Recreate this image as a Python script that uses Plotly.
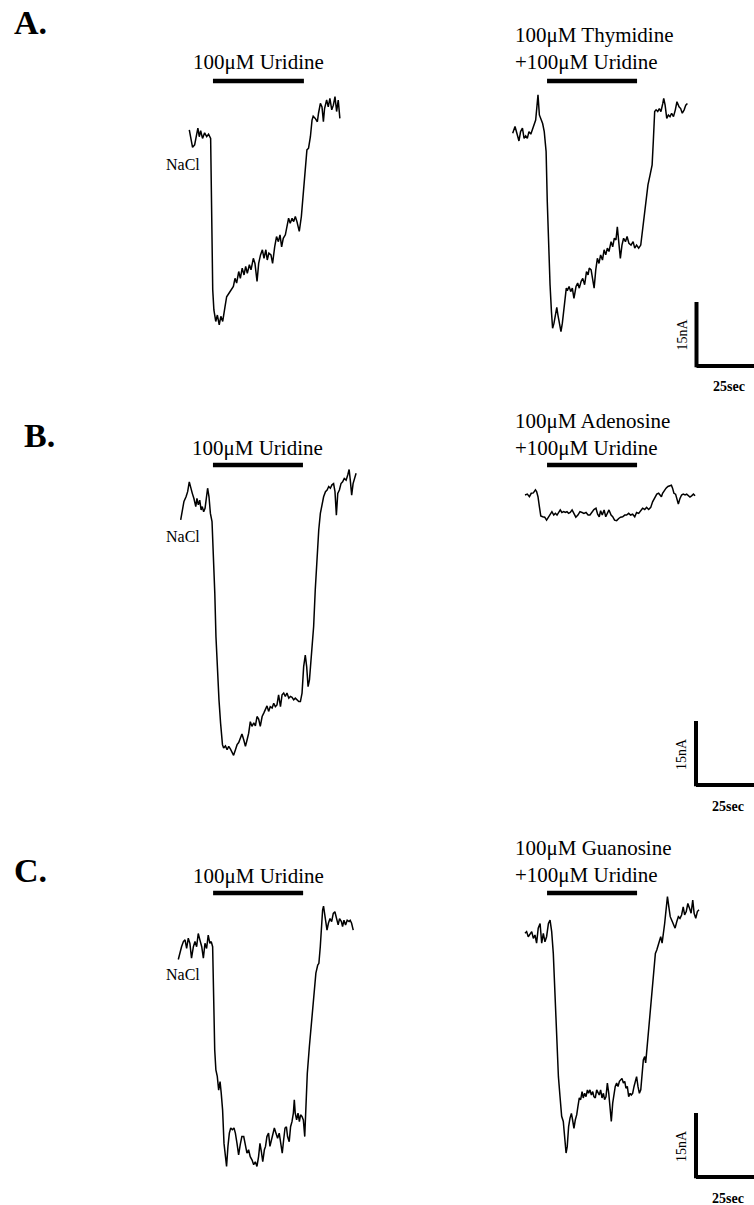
import plotly.graph_objects as go

# ---------------------------------------------------------------
# Whole-cell current traces (time in s, current in nA, baseline = 0)
# ---------------------------------------------------------------

# A, left: 100 uM uridine
a_left_t = [0, 0.7, 1.4, 2.3, 3.2, 3.7, 4.3, 4.9, 5.7, 6.6, 7.5, 8.3, 9.2, 9.6, 10.1, 10.6,
            11.4, 12.1, 12.9, 13.6, 14.4, 15.4, 16.1, 17.1, 18.0, 19.0, 19.7, 20.4, 21.3, 22.0,
            22.8, 23.6, 24.3, 25.0, 25.9, 26.6, 27.6, 28.3, 29.2, 29.9, 30.7, 31.5, 32.2, 33.0,
            33.6, 34.3, 35.2, 35.9, 36.8, 37.6, 38.4, 39.1, 39.8, 40.5, 41.4, 42.1, 42.8, 43.5,
            44.3, 45.0, 45.7, 46.4, 47.4, 48.3, 49.1, 50.0, 50.7, 51.4, 52.2, 52.9, 53.4, 54.3,
            55.2, 55.7, 56.5, 57.2, 57.8, 58.3, 59.2, 59.9, 60.6, 61.4, 62.1, 62.8, 63.5, 64.2, 64.9]
a_left_i = [1.2, -1.2, -2.9, -2.3, 0.8, 1.6, -0.4, 1.0, -0.8, 0.5, -0.4, 0.2, -0.8, -16.8, -36.3, -41.0,
            -43.7, -42.2, -44.5, -42.5, -43.7, -40.2, -37.9, -37.1, -36.3, -35.5, -33.6, -34.7, -32.0, -33.6,
            -31.2, -32.8, -30.8, -32.4, -30.4, -31.6, -28.9, -30.1, -34.3, -30.1, -28.1, -26.9, -28.9, -26.9,
            -29.3, -27.7, -28.1, -30.1, -26.2, -23.8, -25.0, -23.4, -26.2, -24.2, -23.4, -21.5, -19.5, -20.7,
            -19.5, -20.3, -19.1, -20.3, -22.6, -19.1, -14.4, -9.0, -3.5, -3.1, -0.4, 3.5, 4.4, 3.9,
            3.1, 5.1, 7.4, 6.6, 3.1, 6.2, 8.2, 6.6, 8.6, 5.9, 7.0, 9.0, 5.5, 8.2, 3.9]

# A, right: 100 uM thymidine + 100 uM uridine
a_right_t = [0, 1.0, 2.0, 2.7, 3.4, 4.2, 4.9, 5.6, 6.3, 7.0, 7.8, 8.5, 9.2, 9.9, 10.5, 10.9, 11.5,
             12.2, 12.9, 13.6, 14.4, 14.9, 15.5, 16.1, 16.7, 17.2, 17.8, 18.4, 19.0, 19.5, 20.1,
             20.8, 21.4, 22.0, 22.6, 23.1, 23.7, 24.3, 25.0, 25.7, 26.4, 27.3, 28.0, 28.7, 29.5,
             30.2, 31.0, 31.8, 32.5, 33.0, 33.8, 34.5, 35.1, 35.8, 36.5, 37.2, 37.9, 38.7, 39.4,
             40.1, 40.8, 41.5, 42.4, 43.1, 43.8, 44.5, 45.1, 45.7, 46.4, 47.1, 47.8, 48.6, 49.3,
             50.1, 51.0, 51.9, 52.6, 53.4, 54.3, 55.2, 55.9, 56.6, 57.5, 58.3, 59.2, 60.1, 60.6,
             61.2, 61.8, 62.5, 63.2, 63.9, 64.7, 65.1, 65.7, 66.4, 67.1, 67.8, 68.5, 69.3, 70.1,
             70.8, 71.7, 72.4, 73.1, 73.9, 74.6, 75.3]
a_right_i = [0.4, 2.0, 0.0, -1.4, 0.8, 1.6, -0.8, -0.2, -0.8, 0.8, 0.2, 1.2, 2.0, 3.5, 7.0, 9.4, 4.7,
             3.9, 2.7, 0.8, -3.9, -15.6, -27.3, -35.1, -41.4, -45.3, -44.1, -42.2, -40.4, -42.2, -43.7,
             -46.1, -44.1, -41.4, -39.0, -35.9, -36.3, -35.5, -36.7, -35.9, -38.3, -35.5, -34.7, -35.9, -34.3,
             -33.6, -35.1, -32.0, -32.8, -31.2, -31.6, -33.6, -35.9, -31.6, -28.9, -30.1, -28.1, -29.3, -26.9,
             -28.1, -26.5, -27.3, -25.0, -26.2, -24.2, -24.6, -21.5, -25.0, -28.9, -25.8, -24.2, -25.0, -23.8,
             -25.4, -25.8, -25.0, -26.5, -25.8, -26.5, -25.8, -22.6, -18.0, -14.8, -11.7, -9.4, -7.0, -1.6,
             5.5, 5.9, 5.5, 6.2, 5.5, 7.4, 8.6, 7.0, 3.9, 4.7, 4.3, 5.1, 4.3, 5.9,
             7.8, 6.6, 6.2, 5.1, 5.9, 7.0, 7.4]

# B, left: 100 uM uridine
b_left_t = [0, 0.7, 1.4, 2.3, 3.0, 3.7, 4.3, 5.0, 5.7, 6.5, 7.0, 7.6, 8.2, 8.8, 9.3, 9.9, 10.5,
            11.6, 12.2, 12.8, 13.5, 14.1, 14.7, 15.2, 15.8, 16.5, 17.2, 18.0, 18.5, 19.3, 20.0,
            20.7, 21.4, 22.1, 22.8, 23.6, 24.3, 25.0, 25.7, 26.4, 27.2, 27.9, 28.6, 29.3, 30.0,
            30.7, 31.5, 32.2, 32.9, 33.6, 34.3, 35.1, 35.8, 36.5, 37.2, 37.9, 38.6, 39.4, 40.1,
            40.8, 41.5, 42.2, 43.0, 43.7, 44.4, 45.1, 45.8, 46.6, 47.3, 48.0, 48.7, 49.4, 50.1,
            50.9, 51.6, 52.3, 53.0, 53.7, 54.3, 54.9, 55.5, 56.0, 56.6, 57.3, 58.0, 58.8, 59.5,
            60.2, 60.9, 61.6, 62.4, 63.1, 63.8, 64.5, 65.2, 65.9, 66.5, 67.1, 67.7, 68.4, 69.1,
            69.8, 70.5, 71.3, 72.0, 72.6, 73.1, 73.7, 74.3, 74.9, 75.6]
b_left_i = [-2.3, 0.0, 2.0, 3.1, 4.3, 6.6, 5.1, 3.9, 2.7, 0.8, 2.7, 1.2, 2.3, 0.0, 0.8, -0.4, 0.4,
            5.1, 3.1, -0.8, -2.7, -10.1, -19.5, -29.7, -38.3, -44.5, -50.0, -55.0, -55.8, -55.3, -56.2,
            -55.4, -56.0, -56.8, -57.5, -56.2, -55.0, -54.5, -53.5, -52.5, -53.9, -55.4, -53.9, -52.3, -49.6,
            -50.7, -49.9, -50.6, -48.4, -49.0, -50.7, -48.4, -47.6, -46.8, -45.9, -47.2, -46.1, -46.4, -45.3,
            -46.1, -45.7, -43.3, -46.1, -43.3, -42.9, -43.7, -42.9, -44.1, -43.7, -43.9, -44.5, -44.1, -44.5,
            -44.9, -44.9, -42.9, -36.7, -34.0, -36.7, -41.4, -39.8, -36.7, -32.8, -27.3, -18.7, -9.4, -4.7,
            -0.8, 1.6, 3.1, 4.3, 4.7, 5.5, 5.1, 5.9, 6.2, 4.3, -1.2, 3.9, 4.7, 6.2,
            6.6, 7.4, 7.0, 8.2, 9.5, 7.0, 3.5, 6.2, 7.4, 8.6]

# B, right: 100 uM adenosine + 100 uM uridine
b_right_t = [0, 1.0, 1.9, 2.7, 3.6, 4.5, 5.0, 5.6, 6.2, 6.8, 7.6, 8.5, 9.3, 10.1, 10.8, 11.6,
             12.4, 13.1, 13.8, 14.5, 15.2, 15.9, 16.7, 17.4, 18.1, 18.8, 19.5, 20.3, 21.1, 21.9,
             22.8, 23.7, 24.6, 25.4, 26.3, 27.2, 28.0, 28.9, 29.7, 30.6, 31.3, 32.0, 32.6, 33.3,
             34.1, 34.8, 35.5, 36.2, 37.1, 37.8, 38.6, 39.5, 40.4, 41.2, 42.1, 43.0, 43.8, 44.7,
             45.5, 46.4, 47.3, 48.1, 49.0, 49.9, 50.7, 51.6, 52.4, 53.3, 54.2, 55.0, 55.9, 56.8,
             57.6, 58.2, 58.8, 59.3, 60.1, 60.8, 61.6, 62.5, 63.1, 63.6, 64.2, 64.9, 65.5, 66.1,
             66.8, 67.5, 68.2, 69.0, 69.7, 70.4, 71.1, 71.8, 72.6, 73.3]
b_right_i = [0.0, 0.2, -0.4, 0.4, 0.5, 1.2, 0.8, -0.4, -2.7, -4.9, -5.1, -5.2, -5.9, -5.1, -4.7, -3.9,
             -4.7, -4.3, -4.7, -3.9, -3.5, -4.1, -3.9, -4.1, -3.9, -4.3, -4.1, -3.5, -4.3, -5.2,
             -4.7, -3.9, -4.1, -4.3, -4.1, -4.7, -4.7, -3.9, -3.4, -3.1, -4.5, -5.1, -3.7, -4.7,
             -3.5, -5.1, -4.1, -3.5, -4.7, -5.1, -5.9, -6.0, -5.5, -5.2, -5.1, -4.7, -4.7, -4.3,
             -4.7, -4.5, -5.1, -4.1, -4.3, -3.5, -3.1, -3.4, -2.9, -3.4, -2.9, -1.6, -0.8, 0.2,
             0.4, 0.0, -0.4, 0.4, 1.2, 1.6, 2.0, 2.1, 2.3, 1.6, 0.4, 0.2, -1.2, -2.1,
             -0.8, 0.0, 0.2, 0.0, 0.2, -0.2, -0.5, -0.2, 0.2, -0.2]

# C, left: 100 uM uridine
c_left_t = [0, 0.7, 1.4, 2.2, 2.9, 3.6, 4.3, 5.0, 5.7, 6.5, 7.2, 7.9, 8.6, 9.3, 10.1, 10.8,
            11.5, 12.2, 12.9, 13.6, 14.2, 14.8, 15.2, 15.7, 16.2, 16.8, 17.4, 18.0, 18.5, 19.1,
            19.7, 20.3, 20.8, 21.4, 22.0, 22.6, 23.3, 24.0, 24.6, 25.3, 26.0, 26.7, 27.4, 28.2,
            28.9, 29.6, 30.3, 31.0, 31.8, 32.5, 33.2, 33.9, 34.6, 35.2, 35.8, 36.4, 37.1, 37.6,
            38.2, 38.9, 39.5, 40.1, 40.7, 41.4, 42.1, 42.8, 43.5, 44.3, 44.8, 45.4, 46.0, 46.6,
            47.1, 47.8, 48.4, 49.0, 49.6, 50.0, 50.4, 51.0, 51.6, 52.2, 52.7, 53.3, 53.9, 54.5,
            55.0, 55.6, 56.5, 57.3, 57.9, 58.6, 59.3, 60.1, 60.6, 61.2, 61.8, 62.2, 62.6, 63.1,
            63.5, 64.1, 64.7, 65.4, 66.1, 66.8, 67.5, 68.2, 68.9, 69.5, 70.3, 70.8, 71.4, 72.1,
            72.8, 73.6, 74.1, 74.7, 75.4]
c_left_i = [-3.0, -1.2, 0.0, 1.2, 1.6, -0.4, 2.0, 0.8, -2.7, 0.0, 1.2, 0.0, 3.1, 1.6, 0.0, -2.7,
            0.8, -0.4, 2.7, 0.8, 1.2, 0.0, -11.7, -24.2, -28.9, -30.4, -33.6, -31.6, -34.3, -38.3,
            -46.1, -50.0, -51.5, -46.8, -43.7, -42.5, -42.9, -42.5, -43.7, -46.1, -48.8, -46.4, -44.5, -44.5,
            -46.8, -48.4, -47.6, -49.2, -50.0, -51.1, -50.4, -51.5, -49.2, -46.1, -48.0, -50.4, -47.6, -46.8,
            -44.5, -43.7, -46.8, -45.3, -44.5, -42.5, -43.7, -44.9, -43.7, -46.8, -48.4, -45.3, -42.5, -42.2,
            -44.5, -45.7, -42.2, -41.0, -39.0, -35.9, -39.0, -40.6, -39.0, -41.0, -39.4, -39.8, -40.6, -44.5,
            -38.3, -29.7, -23.4, -18.7, -14.1, -10.9, -6.2, -4.3, -3.9, 0.0, 5.5, 8.6, 9.5, 7.8,
            5.5, 3.9, 5.5, 6.6, 5.9, 7.8, 8.2, 6.6, 5.1, 6.6, 5.9, 4.7, 6.2, 5.1,
            6.2, 5.9, 6.2, 5.5, 3.9]

# C, right: 100 uM guanosine + 100 uM uridine
c_right_t = [0, 0.7, 1.4, 2.2, 2.9, 3.6, 4.3, 5.0, 5.7, 6.5, 7.2, 7.9, 8.6, 9.3, 10.1, 10.8,
             11.5, 12.2, 12.9, 13.6, 14.4, 15.1, 15.8, 16.5, 17.2, 17.7, 18.2, 18.8, 19.4, 20.0,
             20.5, 21.1, 21.7, 22.3, 22.8, 23.4, 24.0, 24.6, 25.1, 25.7, 26.3, 26.9, 27.4, 28.0,
             28.6, 29.2, 29.7, 30.3, 30.9, 31.5, 32.0, 32.6, 33.2, 33.8, 34.3, 34.9, 35.5, 36.1,
             36.6, 37.2, 37.8, 38.4, 38.9, 39.5, 40.1, 40.7, 41.2, 41.8, 42.4, 43.0, 43.5, 44.1,
             44.7, 45.3, 45.8, 46.4, 47.0, 47.6, 48.1, 48.7, 49.3, 49.9, 50.4, 51.0, 51.6, 52.0,
             52.4, 52.9, 53.3, 53.9, 54.5, 55.0, 55.6, 56.2, 56.8, 57.3, 57.9, 58.5, 59.1, 59.6,
             60.2, 60.8, 61.4, 62.0, 62.6, 63.2, 63.9, 64.7, 65.4, 66.1, 66.8, 67.5, 68.2, 68.8,
             69.5, 70.2, 70.9, 71.6, 72.3, 72.9, 73.6, 74.3, 75.0]
c_right_i = [0.0, 0.4, -0.8, 0.0, 0.4, -1.2, -0.4, -2.3, 1.2, 2.3, -2.3, 0.0, -2.0, -0.8, 2.3, 3.1,
             0.4, -4.7, -14.1, -25.0, -33.6, -38.3, -42.9, -44.1, -47.6, -51.5, -50.0, -45.3, -43.3, -42.2,
             -43.7, -45.7, -43.7, -42.5, -40.6, -38.6, -39.0, -37.1, -38.6, -37.5, -38.3, -36.7, -37.5, -36.7,
             -37.9, -37.1, -38.3, -38.6, -36.7, -37.5, -37.9, -36.7, -38.6, -37.5, -39.0, -38.3, -35.1, -37.5,
             -40.6, -44.1, -39.8, -37.5, -35.9, -35.1, -35.9, -34.7, -34.3, -34.0, -35.1, -34.7, -36.3, -35.9,
             -38.3, -37.5, -37.9, -37.5, -35.9, -34.3, -33.6, -35.9, -37.5, -36.7, -33.0, -29.7, -28.9, -30.4,
             -28.1, -25.0, -21.9, -18.7, -14.8, -12.5, -7.8, -4.7, -3.9, -3.1, -1.6, -0.8, -2.3, -0.4,
             2.3, 5.5, 8.6, 6.2, 3.9, 3.1, 2.3, 1.2, 2.7, 3.9, 3.5, 4.3, 6.2, 4.3,
             5.1, 7.0, 5.9, 4.7, 7.8, 4.7, 3.5, 5.1, 5.5]

# Drug application windows (s from trace start)
a_left_on, a_left_off = 10.2, 49.4
a_right_on, a_right_off = 14.8, 53.6
b_left_on, b_left_off = 13.9, 52.7
b_right_on, b_right_off = 9.5, 48.3
c_left_on, c_left_off = 15.0, 53.8
c_right_on, c_right_off = 9.5, 48.3

# Calibration bar values
scale_time_s = 25
scale_current_na = 15

# Text
panel_letters = ["A.", "B.", "C."]
uridine_label = "100μM Uridine"
combo_labels = ["100μM Thymidine<br>+100μM Uridine",
                "100μM Adenosine<br>+100μM Uridine",
                "100μM Guanosine<br>+100μM Uridine"]
bath_label = "NaCl"
time_label = "25sec"
current_label = "15nA"

# ---------------------------------------------------------------
# Page geometry
# ---------------------------------------------------------------
W, H = 754, 1205
SX = 2.32          # px per second
SY = 64 / 15       # px per nA
SERIF = "Liberation Serif, Times New Roman, serif"

# pixel position of (t=0, I=0) for each trace
origins = {
    "a_left": (189.3, 135.0),
    "a_right": (512.7, 135.0),
    "b_left": (180.7, 510.0),
    "b_right": (525.0, 495.0),
    "c_left": (178.3, 946.7),
    "c_right": (525.0, 933.3),
}

traces = [
    ("a_left", a_left_t, a_left_i, a_left_on, a_left_off),
    ("a_right", a_right_t, a_right_i, a_right_on, a_right_off),
    ("b_left", b_left_t, b_left_i, b_left_on, b_left_off),
    ("b_right", b_right_t, b_right_i, b_right_on, b_right_off),
    ("c_left", c_left_t, c_left_i, c_left_on, c_left_off),
    ("c_right", c_right_t, c_right_i, c_right_on, c_right_off),
]

bar_y = {"a": 81, "b": 465, "c": 893}
uridine_label_y = {"a": 62, "b": 448, "c": 876}
combo_label_y = {"a": 48.5, "b": 434, "c": 861}
nacl_y = {"a": 165, "b": 536, "c": 974}
letter_pos = {"a": (12, 22), "b": (22, 435), "c": (12, 870)}
scale_corner = {"a": (696.5, 366), "b": (696, 785), "c": (696, 1177)}


def px_to_data(key, px, py):
    x0, y0 = origins[key]
    return (px - x0) / SX, (y0 - py) / SY


def py_paper(py):
    return 1 - py / H


fig = go.Figure()
layout = dict(
    width=W, height=H, autosize=False,
    margin=dict(l=0, r=0, t=0, b=0, pad=0),
    paper_bgcolor="white", plot_bgcolor="rgba(0,0,0,0)",
    showlegend=False,
)
shapes, annotations = [], []

for n, (key, t, cur, t_on, t_off) in enumerate(traces, start=1):
    x0, y0 = origins[key]
    sfx = "" if n == 1 else str(n)
    layout["xaxis" + sfx] = dict(domain=[0, 1], range=[-x0 / SX, (W - x0) / SX],
                                 visible=False, fixedrange=True, anchor="y" + sfx)
    layout["yaxis" + sfx] = dict(domain=[0, 1], range=[(y0 - H) / SY, y0 / SY],
                                 visible=False, fixedrange=True, anchor="x" + sfx)
    fig.add_trace(go.Scatter(x=t, y=cur, mode="lines", xaxis="x" + sfx, yaxis="y" + sfx,
                             line=dict(color="black", width=1.5), hoverinfo="skip"))

    row = key[0]
    # application bar
    yb = py_paper(bar_y[row])
    shapes.append(dict(type="line", xref="x" + sfx, yref="paper", x0=t_on, x1=t_off,
                       y0=yb, y1=yb, line=dict(color="black", width=4.5)))

    if key.endswith("left"):
        annotations.append(dict(text=uridine_label, xref="x" + sfx, yref="paper",
                                x=(t_on + t_off) / 2, y=py_paper(uridine_label_y[row]),
                                xanchor="center", yanchor="middle", showarrow=False,
                                font=dict(family=SERIF, size=21, color="black")))
        annotations.append(dict(text=bath_label, xref="paper", yref="paper",
                                x=202 / W, y=py_paper(nacl_y[row]),
                                xanchor="right", yanchor="middle", showarrow=False,
                                font=dict(family=SERIF, size=16, color="black")))
        lx, ly = letter_pos[row]
        annotations.append(dict(text="<b>%s</b>" % panel_letters["abc".index(row)],
                                xref="paper", yref="paper", x=lx / W, y=py_paper(ly),
                                xanchor="left", yanchor="middle", showarrow=False,
                                font=dict(family=SERIF, size=34, color="black")))
    else:
        annotations.append(dict(text=combo_labels["abc".index(row)], xref="paper", yref="paper",
                                x=513 / W, y=py_paper(combo_label_y[row]), align="left",
                                xanchor="left", yanchor="middle", showarrow=False,
                                font=dict(family=SERIF, size=21, color="black")))
        # calibration bars
        cx, cy = scale_corner[row]
        tc, ic = px_to_data(key, cx, cy)
        shapes.append(dict(type="line", xref="x" + sfx, yref="y" + sfx,
                           x0=tc, x1=tc, y0=ic - 0.3, y1=ic + scale_current_na,
                           line=dict(color="black", width=4)))
        shapes.append(dict(type="line", xref="x" + sfx, yref="y" + sfx,
                           x0=tc, x1=tc + scale_time_s, y0=ic, y1=ic,
                           line=dict(color="black", width=4)))
        annotations.append(dict(text=current_label, xref="paper", yref="paper",
                                x=(cx - 15) / W, y=py_paper(cy - 31), textangle=-90,
                                xanchor="center", yanchor="middle", showarrow=False,
                                font=dict(family=SERIF, size=14, color="black")))
        annotations.append(dict(text="<b>%s</b>" % time_label, xref="paper", yref="paper",
                                x=(cx + 32) / W, y=py_paper(cy + 21),
                                xanchor="center", yanchor="middle", showarrow=False,
                                font=dict(family=SERIF, size=14, color="black")))

layout["shapes"] = shapes
layout["annotations"] = annotations
fig.update_layout(**layout)

fig.write_html("out.html", config={"displayModeBar": False, "staticPlot": True})
